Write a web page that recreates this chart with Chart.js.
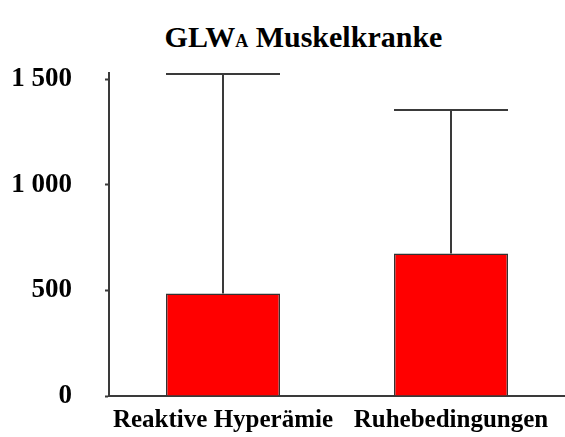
<!DOCTYPE html>
<html lang="de">
<head>
<meta charset="utf-8">
<title>GLWA Muskelkranke</title>
<script src="https://cdn.jsdelivr.net/npm/chart.js@4/dist/chart.umd.min.js"></script>
<style>
  html, body { margin: 0; padding: 0; background: #fff; }
  #wrap { position: relative; width: 565px; height: 437px; }
  #title {
    position: absolute; left: 0; top: 20px; width: 607px; text-align: center;
    font: bold 30px "Liberation Serif", "Times New Roman", serif; color: #000;
  }
  #title span { font-size: 18px; }
  canvas { position: absolute; left: 0; top: 0; }
</style>
</head>
<body>
<div id="wrap">
  <div id="title">GLW<span>A</span> Muskelkranke</div>
  <canvas id="glwChart" width="565" height="437"></canvas>
</div>
<script>
const categories = ['Reaktive Hyperämie', 'Ruhebedingungen'];
const meanValues = [485, 675];
const upperValues = [1525, 1355];
const tickValues = [0, 500, 1000, 1500];

const serif = '"Liberation Serif", "Times New Roman", serif';

// upper whiskers with a cap as wide as the bar
const errorBars = {
  id: 'errorBars',
  afterDatasetsDraw(chart) {
    const { ctx, scales: { y } } = chart;
    const meta = chart.getDatasetMeta(0);
    ctx.save();
    ctx.strokeStyle = '#3a3a3a';
    ctx.lineWidth = 2;
    meta.data.forEach((bar, i) => {
      const top = y.getPixelForValue(upperValues[i]);
      const half = bar.width / 2;
      ctx.beginPath();
      ctx.moveTo(bar.x, bar.y);
      ctx.lineTo(bar.x, top);
      ctx.moveTo(bar.x - half, top);
      ctx.lineTo(bar.x + half, top);
      ctx.stroke();
    });
    ctx.restore();
  }
};

new Chart(document.getElementById('glwChart'), {
  type: 'bar',
  data: {
    labels: categories,
    datasets: [{
      data: meanValues,
      backgroundColor: '#ff0000',
      borderColor: '#333333',
      borderWidth: 1.5,
      categoryPercentage: 1,
      barPercentage: 0.5
    }]
  },
  options: {
    responsive: false,
    animation: false,
    layout: { padding: { top: 73, right: 0, left: 0, bottom: 0 } },
    plugins: {
      legend: { display: false },
      tooltip: { enabled: false }
    },
    scales: {
      x: {
        grid: { display: false, drawTicks: false },
        border: { display: true, color: '#3a3a3a', width: 2 },
        ticks: {
          padding: 10,
          maxRotation: 0,
          color: '#000',
          font: { family: serif, size: 25, weight: 'bold' }
        },
        afterFit: axis => { axis.height = 41; }
      },
      y: {
        min: 0,
        max: 1530,
        afterBuildTicks: axis => { axis.ticks = tickValues.map(v => ({ value: v })); },
        grid: { drawOnChartArea: false, drawTicks: true, tickLength: 4, color: '#3a3a3a', tickWidth: 2 },
        border: { display: true, color: '#3a3a3a', width: 2 },
        ticks: {
          padding: 33,
          color: '#000',
          font: { family: serif, size: 27, weight: 'bold' },
          callback: v => String(v).replace(/\B(?=(\d{3})+$)/g, ' ')
        },
        afterFit: axis => {
          axis.width = 109;
          axis.paddingTop = 0;
          axis.paddingBottom = 0;
        }
      }
    }
  },
  plugins: [errorBars]
});
</script>
</body>
</html>
